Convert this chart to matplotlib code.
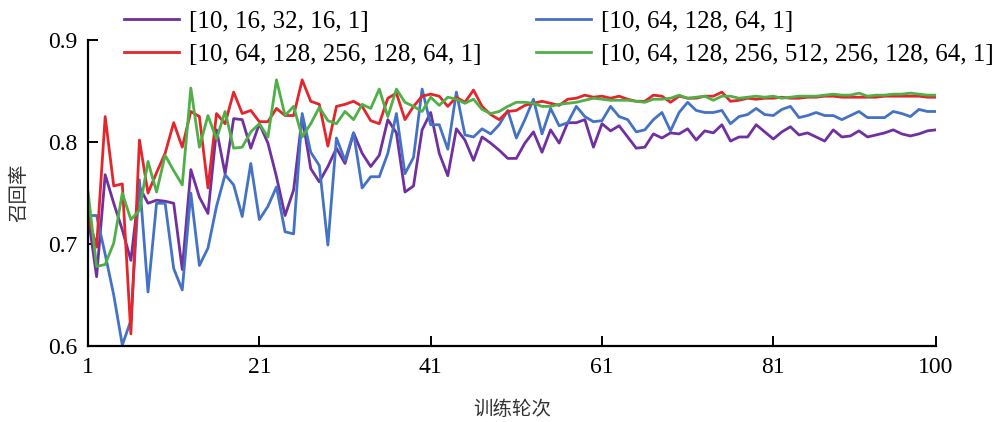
import numpy as np
import matplotlib
matplotlib.use('Agg')
import matplotlib.pyplot as plt

# recall per training epoch for four network layouts
labels = ['[10, 16, 32, 16, 1]', '[10, 64, 128, 64, 1]',
          '[10, 64, 128, 256, 128, 64, 1]', '[10, 64, 128, 256, 512, 256, 128, 64, 1]']
colors = ['#7030A0', '#4472C4', '#E3262B', '#4EB046']

purple = [0.728, 0.668, 0.768, 0.740, 0.714, 0.684, 0.756, 0.740, 0.743, 0.742,
          0.740, 0.675, 0.773, 0.746, 0.730, 0.812, 0.769, 0.823, 0.822, 0.794,
          0.818, 0.799, 0.766, 0.728, 0.753, 0.825, 0.774, 0.761, 0.776, 0.794,
          0.779, 0.809, 0.789, 0.776, 0.787, 0.822, 0.809, 0.751, 0.757, 0.812,
          0.829, 0.789, 0.767, 0.813, 0.802, 0.782, 0.805, 0.799, 0.792, 0.784,
          0.784, 0.799, 0.810, 0.790, 0.812, 0.799, 0.819, 0.819, 0.822, 0.795,
          0.818, 0.811, 0.816, 0.805, 0.794, 0.795, 0.808, 0.804, 0.809, 0.808,
          0.813, 0.802, 0.811, 0.809, 0.817, 0.801, 0.805, 0.805, 0.817, 0.810,
          0.803, 0.810, 0.815, 0.807, 0.809, 0.805, 0.801, 0.812, 0.805, 0.806,
          0.811, 0.805, 0.807, 0.809, 0.812, 0.808, 0.806, 0.808, 0.811, 0.812]

blue = [0.728, 0.728, 0.690, 0.650, 0.601, 0.625, 0.763, 0.653, 0.740, 0.740,
        0.676, 0.655, 0.750, 0.679, 0.696, 0.737, 0.768, 0.758, 0.727, 0.779,
        0.724, 0.737, 0.756, 0.712, 0.710, 0.828, 0.790, 0.777, 0.699, 0.804,
        0.782, 0.809, 0.755, 0.766, 0.766, 0.789, 0.828, 0.769, 0.785, 0.852,
        0.817, 0.817, 0.793, 0.849, 0.807, 0.805, 0.813, 0.808, 0.817, 0.831,
        0.804, 0.822, 0.842, 0.808, 0.833, 0.816, 0.819, 0.835, 0.825, 0.820,
        0.821, 0.835, 0.825, 0.822, 0.810, 0.812, 0.822, 0.829, 0.811, 0.829,
        0.839, 0.831, 0.829, 0.829, 0.831, 0.818, 0.825, 0.827, 0.833, 0.827,
        0.826, 0.832, 0.835, 0.824, 0.826, 0.829, 0.826, 0.826, 0.822, 0.826,
        0.830, 0.824, 0.824, 0.824, 0.830, 0.828, 0.825, 0.832, 0.830, 0.830]

red = [0.727, 0.697, 0.825, 0.757, 0.759, 0.612, 0.802, 0.750, 0.770, 0.789,
       0.819, 0.795, 0.830, 0.825, 0.755, 0.828, 0.818, 0.849, 0.828, 0.831,
       0.820, 0.820, 0.833, 0.826, 0.826, 0.861, 0.840, 0.837, 0.796, 0.835,
       0.837, 0.840, 0.835, 0.821, 0.818, 0.843, 0.848, 0.822, 0.835, 0.845,
       0.847, 0.845, 0.835, 0.844, 0.839, 0.851, 0.835, 0.827, 0.822, 0.830,
       0.831, 0.836, 0.838, 0.840, 0.838, 0.836, 0.842, 0.843, 0.846, 0.844,
       0.845, 0.843, 0.845, 0.842, 0.840, 0.840, 0.846, 0.845, 0.839, 0.845,
       0.843, 0.843, 0.845, 0.845, 0.849, 0.840, 0.841, 0.843, 0.842, 0.843,
       0.843, 0.844, 0.843, 0.843, 0.844, 0.844, 0.845, 0.845, 0.844, 0.844,
       0.844, 0.844, 0.844, 0.845, 0.845, 0.845, 0.845, 0.845, 0.844, 0.844]

green = [0.751, 0.678, 0.680, 0.701, 0.750, 0.724, 0.733, 0.781, 0.751, 0.787,
         0.772, 0.758, 0.853, 0.795, 0.826, 0.803, 0.830, 0.794, 0.795, 0.810,
         0.818, 0.805, 0.861, 0.826, 0.835, 0.805, 0.818, 0.834, 0.821, 0.818,
         0.830, 0.822, 0.837, 0.833, 0.852, 0.825, 0.852, 0.839, 0.835, 0.830,
         0.844, 0.836, 0.844, 0.842, 0.838, 0.842, 0.832, 0.828, 0.830, 0.835,
         0.839, 0.839, 0.838, 0.835, 0.835, 0.837, 0.838, 0.839, 0.841, 0.843,
         0.842, 0.841, 0.841, 0.841, 0.840, 0.839, 0.842, 0.842, 0.843, 0.846,
         0.843, 0.844, 0.845, 0.841, 0.845, 0.845, 0.843, 0.844, 0.845, 0.844,
         0.845, 0.843, 0.844, 0.845, 0.845, 0.845, 0.846, 0.847, 0.846, 0.846,
         0.848, 0.845, 0.846, 0.846, 0.847, 0.847, 0.848, 0.847, 0.846, 0.846]

epochs = np.arange(1, len(purple) + 1)
xticks = [1, 21, 41, 61, 81, 100]
yticks = [0.6, 0.7, 0.8, 0.9]

serif = 'Liberation Serif'
cjk = ['Noto Sans CJK SC', 'DejaVu Sans']

fig = plt.figure(figsize=(10.05, 4.22), dpi=100)
ax = fig.add_axes([0.0876, 0.180, 0.8438, 0.725])

lines = []
for ys, c, lab in zip([purple, blue, red, green], colors, labels):
    ln, = ax.plot(epochs, ys, color=c, lw=2.0, label=lab)
    lines.append(ln)

ax.set_xlim(1, 100)
ax.set_ylim(0.6, 0.9)
ax.set_xticks(xticks)
ax.set_yticks(yticks)
ax.set_yticklabels(['0.6', '0.7', '0.8', '0.9'])
for sp in ['top', 'right']:
    ax.spines[sp].set_visible(False)
for sp in ['left', 'bottom']:
    ax.spines[sp].set_linewidth(1.6)
ax.tick_params(direction='in', length=7, width=1.4, labelsize=17, pad=8)
for t in ax.get_xticklabels() + ax.get_yticklabels():
    t.set_fontfamily(serif)

ax.set_xlabel('训练轮次', family=cjk, fontsize=14, color='#333333', labelpad=15)
ax.set_ylabel('召回率', family=cjk, fontsize=14, color='#333333', labelpad=13)

# legend rows: purple, blue / red, green
order = [0, 2, 1, 3]
fig.legend([lines[i] for i in order], [labels[i] for i in order],
           ncol=2, loc='upper left', bbox_to_anchor=(0.113, 1.0),
           frameon=False, prop={'family': serif, 'size': 18},
           handlelength=2.2, handletextpad=0.4, columnspacing=2.2,
           labelspacing=0.44, borderaxespad=0)

fig.savefig('out.png', dpi=100)
